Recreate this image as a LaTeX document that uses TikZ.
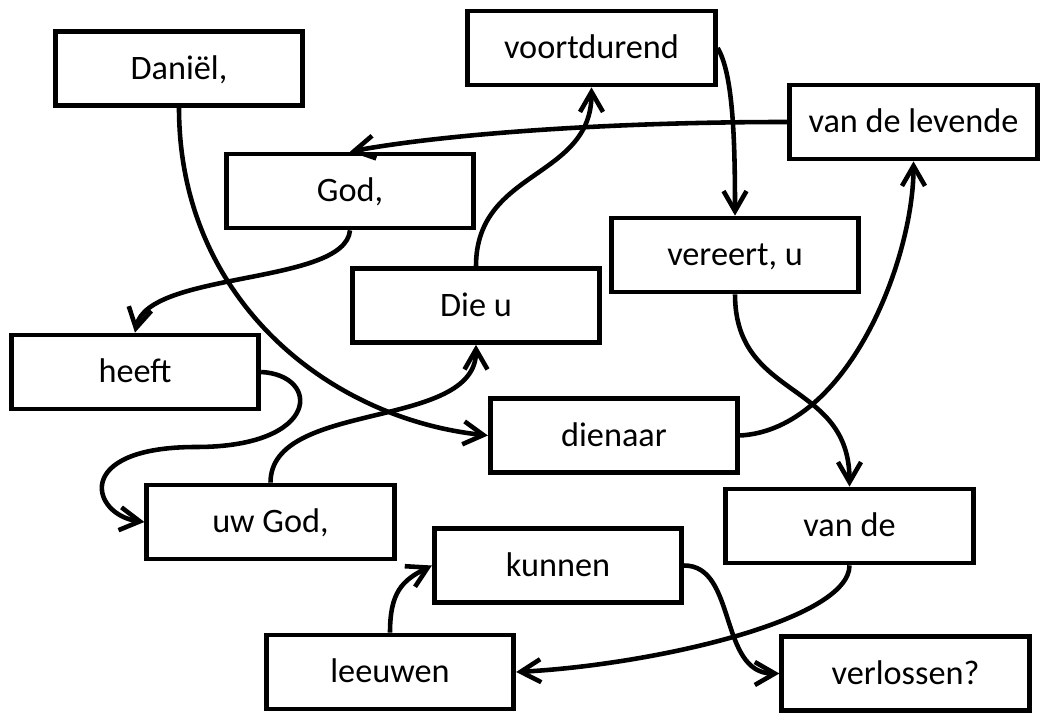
\documentclass[tikz,border=0pt]{standalone}
\usepackage{fontspec}
\setmainfont{Carlito}
\usepackage{tikz}
\usetikzlibrary{arrows.meta}

\begin{document}
\begin{tikzpicture}[wordbox/.style={draw, line width=2.7pt, minimum width=4.95cm, minimum height=1.48cm, text height=12.5pt, text depth=0pt, font=\fontsize{19.5}{23}\selectfont},
  flow/.style={line width=2.6pt, -{Straight Barb[length=0.4cm, width=0.46cm]}}]

\useasboundingbox (0,0) rectangle (21.02,14.32);

% word boxes
\node[wordbox] (dan) at (3.58,12.95) {Daniël,};
\node[wordbox] (voort) at (11.83,13.36) {voortdurend};
\node[wordbox] (vdl) at (18.27,11.88) {van de levende};
\node[wordbox] (god) at (7.0,10.5) {God,};
\node[wordbox] (vereert) at (14.7,9.22) {vereert, u};
\node[wordbox] (dieu) at (9.52,8.21) {Die u};
\node[wordbox] (heeft) at (2.7,6.88) {heeft};
\node[wordbox] (dienaar) at (12.28,5.61) {dienaar};
\node[wordbox] (uwgod) at (5.41,3.88) {uw God,};
\node[wordbox] (vande) at (16.99,3.8) {van de};
\node[wordbox] (kunnen) at (11.16,3.01) {kunnen};
\node[wordbox] (leeuwen) at (7.8,0.88) {leeuwen};
\node[wordbox] (verl) at (18.11,0.85) {verlossen?};

% reading order
\draw[flow] (dan.south) .. controls +(0,-3.84) and +(-3.18,0.34) .. (dienaar.west);
\draw[flow] (dienaar.east) .. controls +(2.16,0.12) and +(0,-1.96) .. (vdl.south);
\draw[flow] (vdl.west) .. controls +(-4,0) and +(1.6,0.3) .. (god.north);
\draw[flow] (god.south) .. controls +(-0.1,-1.1) and +(0.26,1.24) .. (heeft.north);
\draw[flow] (heeft.east) .. controls +(1.2,-0.06) and +(2.5,0) .. ++(-1.3,-1.5)
  .. controls +(-2.5,0) and +(-1.06,0.14) .. (uwgod.west); % loop
\draw[flow] (uwgod.north) .. controls +(0,1.66) and +(0,-1.72) .. (dieu.south);
\draw[flow] (dieu.north) .. controls +(0,1.94) and +(0,-1.84) .. (voort.south);
\draw[flow] (voort.east) .. controls +(0.3,-0.5) and +(0,1.6) .. (vereert.north);
\draw[flow] (vereert.south) .. controls +(0,-2.12) and +(0,2.14) .. (vande.north);
\draw[flow] (vande.south) .. controls +(0,-1.1) and +(2.7,0.14) .. (leeuwen.east);
\draw[flow] (leeuwen.north) .. controls +(0,0.8) and +(-0.6,-0.3) .. (kunnen.west);
\draw[flow] (kunnen.east) .. controls +(1.06,0) and +(-1.22,0) .. (verl.west);
\end{tikzpicture}
\end{document}
